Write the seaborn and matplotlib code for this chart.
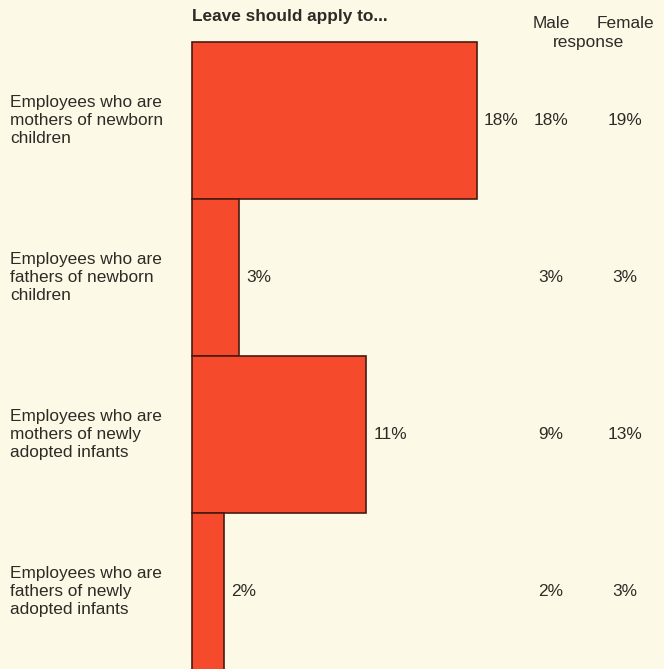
import matplotlib
matplotlib.use("Agg")
import matplotlib.pyplot as plt
import seaborn as sns
import pandas as pd

# Survey results: who parental leave should apply to
categories = [
    "Employees who are\nmothers of newborn\nchildren",
    "Employees who are\nfathers of newborn\nchildren",
    "Employees who are\nmothers of newly\nadopted infants",
    "Employees who are\nfathers of newly\nadopted infants",
]
overall = [18, 3, 11, 2]
male = [18, 3, 9, 2]
female = [19, 3, 13, 3]

BG = "#FCFAE6"
RED = "#F64A2C"
EDGE = "#4A1A10"
TXT = "#2E2A26"

sns.set_theme(style="white")
plt.rcParams["font.family"] = ["Liberation Sans", "DejaVu Sans"]

df = pd.DataFrame({"category": categories, "overall": overall})

fig = plt.figure(figsize=(6.64, 6.69), dpi=100, facecolor=BG)
ax = fig.add_axes([0, 0, 1, 1])
ax.set_facecolor(BG)

sns.barplot(data=df, y="category", x="overall", orient="h", width=1.0,
            color=RED, saturation=1, edgecolor=EDGE, linewidth=1.2, ax=ax)

px_per_pct = 15.83
ax.set_xlim(-192 / px_per_pct, (664 - 192) / px_per_pct)
bar_px = 157
ax.set_ylim((669 - 120.5) / bar_px, -120.5 / bar_px)
ax.axis("off")

fs = 12.4
for i, (cat, v, m, f) in enumerate(zip(categories, overall, male, female)):
    ax.text(-182 / px_per_pct, i, cat, ha="left", va="center", fontsize=fs,
            color=TXT, linespacing=1.22)
    ax.text(v + 7 / px_per_pct, i, f"{v}%", ha="left", va="center",
            fontsize=fs, color=TXT)
    ax.text((551 - 192) / px_per_pct, i, f"{m}%", ha="center", va="center",
            fontsize=fs, color=TXT)
    ax.text((625 - 192) / px_per_pct, i, f"{f}%", ha="center", va="center",
            fontsize=fs, color=TXT)

# Column headers
fig.text(192 / 664, 1 - 17 / 669, "Leave should apply to...", ha="left",
         va="center", fontsize=fs, fontweight="bold", color=TXT)
fig.text(551 / 664, 1 - 23 / 669, "Male", ha="center", va="center",
         fontsize=fs, color=TXT)
fig.text(625 / 664, 1 - 23 / 669, "Female", ha="center", va="center",
         fontsize=fs, color=TXT)
fig.text(589 / 664, 1 - 42 / 669, "response", ha="center", va="center",
         fontsize=fs, color=TXT)

fig.savefig("out.png", dpi=100, facecolor=BG)
